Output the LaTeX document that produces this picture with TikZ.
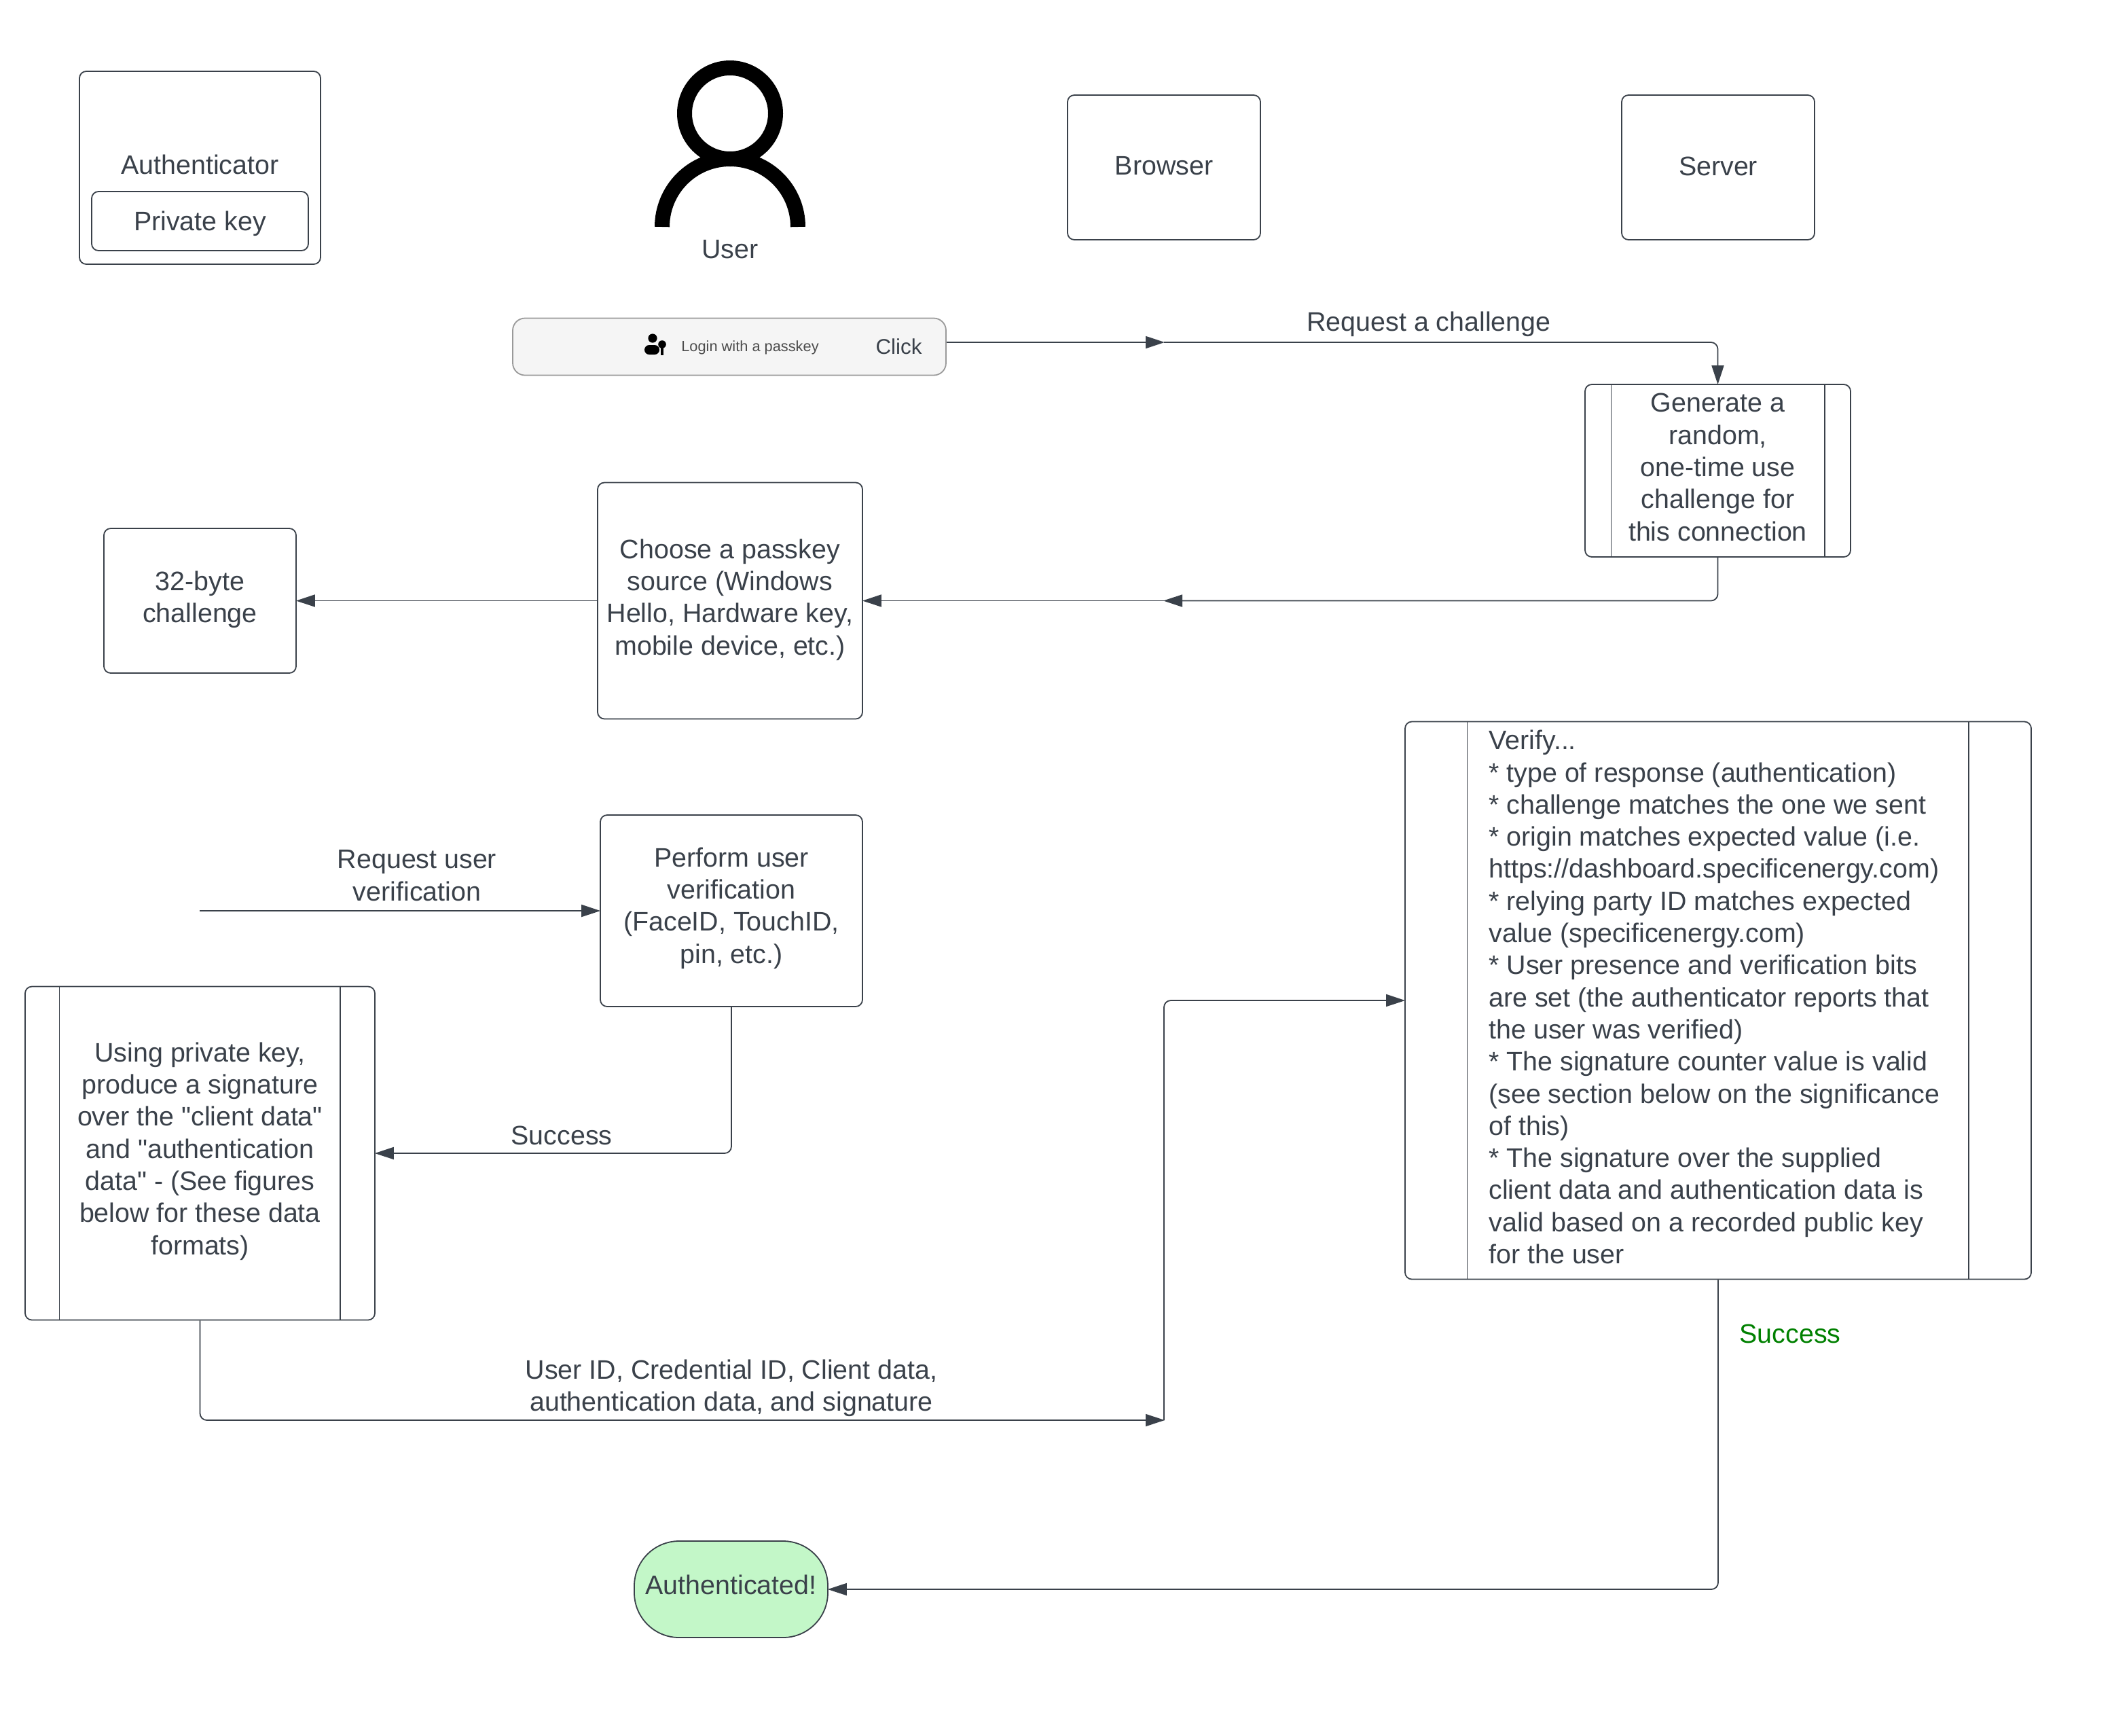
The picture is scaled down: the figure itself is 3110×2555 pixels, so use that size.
\documentclass[tikz,border=0pt]{standalone}
\usepackage{xcolor}
\usepackage{fontspec}
\setmainfont{Liberation Sans}[Ligatures=TeXOff]
\usetikzlibrary{arrows.meta}
\definecolor{inkcol}{HTML}{3A414A}
\definecolor{pillcol}{HTML}{C3F7C8}
\definecolor{btncol}{HTML}{F5F5F5}
\tikzset{
    lbl/.style={text=inkcol, align=center, inner sep=0pt, font=\fontsize{19.7}{23.65}\selectfont},
    plainbox/.style={lbl, draw=inkcol, line width=0.9pt, rounded corners=5pt},
    flowline/.style={draw=inkcol, line width=0.9pt, rounded corners=5pt},
    flowarrow/.style={flowline, -{Triangle[length=14pt,width=9pt]}, shorten >=-0.5pt},
    innerbar/.style={draw=inkcol, line width=0.6pt}
}
\begin{document}
\begin{tikzpicture}[x=0.5pt, y=-0.5pt]
    \useasboundingbox (0,0) rectangle (3110,2555);

    \node[plainbox, minimum width=177.5pt, minimum height=142pt] (authbox) at (294.5,247) {};
    \node[lbl] (authlbl) at (294.5,242) {Authenticator};
    \node[plainbox, minimum width=159.5pt, minimum height=43.5pt] (keybox) at (294.5,325.5) {};
    \node[lbl] (keylbl) at (294.5,329) {Private key};

    \draw[line width=11pt] (1075,167) circle [radius=33.5pt];
    \draw[line width=11pt] (975,334) arc [start angle=180, end angle=0, radius=50pt];
    \node[lbl] (userlbl) at (1075,367) {User};

    \node[plainbox, minimum width=142pt, minimum height=106.5pt] (browser) at (1714,246.5) {};
    \node[lbl] (browserlbl) at (1714,244.5) {Browser};
    \node[plainbox, minimum width=142pt, minimum height=106.5pt] (server) at (2530,246.5) {};
    \node[lbl] (serverlbl) at (2530,244.5) {Server};

    \node[draw=black!40, fill=btncol, line width=0.9pt, rounded corners=9pt, minimum width=319pt, minimum height=42pt] (btn) at (1074,510.5) {};
    \fill (961,498) circle [radius=3.3pt];
    \fill[rounded corners=3.5pt] (949,522) -- (949,508) -- (971,508) -- (971,522) -- cycle;
    \fill (975,507) circle [radius=2.9pt];
    \draw[line width=1.8pt] (975,507) -- (975,523);
    \node[text=black!70, inner sep=0pt, font=\fontsize{10.9}{12}\selectfont] (loginlbl) at (1104.5,512) {Login with a passkey};
    \node[lbl, font=\fontsize{15.7}{18}\selectfont] (clicklbl) at (1323.5,510) {Click};

    \node[plainbox, minimum width=195.5pt, minimum height=127pt] (gen) at (2529.5,693) {};
    \node[lbl] (genlbl) at (2529.5,688) {Generate a\\random,\\one-time use\\challenge for\\this connection};
    \draw[innerbar] ([xshift=19.5pt]gen.north west) -- ([xshift=19.5pt]gen.south west);
    \draw[innerbar] ([xshift=-19.5pt]gen.north east) -- ([xshift=-19.5pt]gen.south east);

    \node[plainbox, minimum width=195pt, minimum height=174pt] (choose) at (1075,884.5) {};
    \node[lbl] (chooselbl) at (1075,883) {Choose a passkey\\source (Windows\\Hello, Hardware key,\\mobile device, etc.)};
    \node[plainbox, minimum width=141.5pt, minimum height=106.5pt] (chal) at (294.5,884.5) {};
    \node[lbl] (challbl) at (294.5,882.5) {32-byte\\challenge};

    \node[plainbox, minimum width=193pt, minimum height=141pt] (perform) at (1077,1341) {};
    \node[lbl] (performlbl) at (1077,1337) {Perform user\\verification\\(FaceID, TouchID,\\pin, etc.)};
    \coordinate (reqstart) at (294,1341);

    \node[plainbox, minimum width=257.5pt, minimum height=245.5pt] (sign) at (294.5,1698) {};
    \node[lbl] (signlbl) at (294.5,1695) {Using private key,\\produce a signature\\over the "client data"\\and "authentication\\data" - (See figures\\below for these data\\formats)};
    \draw[innerbar] ([xshift=25.5pt]sign.north west) -- ([xshift=25.5pt]sign.south west);
    \draw[innerbar] ([xshift=-26pt]sign.north east) -- ([xshift=-26pt]sign.south east);

    \node[plainbox, minimum width=461pt, minimum height=410.5pt] (verify) at (2530,1473) {};
    \node[lbl, align=left, anchor=west] (verifylbl) at (2192,1468) {Verify...\\
        * type of response (authentication)\\
        * challenge matches the one we sent\\
        * origin matches expected value (i.e.\\
        https://dashboard.specificenergy.com)\\
        * relying party ID matches expected\\
        value (specificenergy.com)\\
        * User presence and verification bits\\
        are set (the authenticator reports that\\
        the user was verified)\\
        * The signature counter value is valid\\
        (see section below on the significance\\
        of this)\\
        * The signature over the supplied\\
        client data and authentication data is\\
        valid based on a recorded public key\\
        for the user};
    \draw[innerbar] ([xshift=46pt]verify.north west) -- ([xshift=46pt]verify.south west);
    \draw[innerbar] ([xshift=-46.5pt]verify.north east) -- ([xshift=-46.5pt]verify.south east);

    \node[lbl, fill=pillcol, draw=inkcol, line width=0.9pt, rounded corners=33pt, minimum width=142.5pt, minimum height=71pt] (done) at (1076.5,2340) {};
    \node[lbl] (donelbl) at (1076.5,2333) {Authenticated!};

    \coordinate (reqmid) at (1714,504);
    \coordinate (backmid) at (1714,884.5);
    \coordinate (sendmid) at (1714,2091);

    \draw[flowarrow] (btn.east |- reqmid) -- (reqmid);
    \draw[flowarrow] (reqmid) -| (gen.north);
    \draw[flowarrow] (gen.south) |- (backmid);
    \draw[flowarrow] (backmid) -- (choose.east);
    \draw[flowarrow] (choose.west) -- (chal.east);
    \draw[flowarrow] (reqstart) -- (perform.west);
    \draw[flowarrow] (perform.south) |- (sign.east);
    \draw[flowarrow] (sign.south) |- (sendmid);
    \draw[flowarrow] (sendmid) |- (verify.west);
    \draw[flowarrow] (verify.south) |- (done.east);

    \node[lbl] (reqchal) at (2104,477) {Request a challenge};
    \node[lbl] (requser) at (614,1289) {Request user\\verification};
    \node[lbl] (okuser) at (827,1672) {Success};
    \node[lbl] (sendlbl) at (1077,2044) {User ID, Credential ID, Client data,\\authentication data, and signature};
    \node[lbl, text=green!50!black] (okverify) at (2636,1964) {Success};
\end{tikzpicture}
\end{document}
